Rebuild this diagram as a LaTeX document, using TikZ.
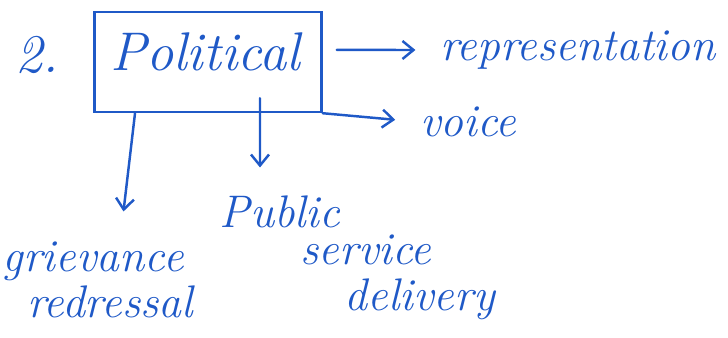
\documentclass[tikz,border=0pt]{standalone}
\usepackage{tikz}
\usetikzlibrary{arrows.meta}
\definecolor{InkBlue}{rgb}{0.12, 0.35, 0.78}

\begin{document}
\begin{tikzpicture}[
  x=0.02cm, y=-0.02cm,
  ink/.style  = {draw=InkBlue, line width=1.4pt},
  hw/.style   = {text=InkBlue, inner sep=0pt, font=\itshape\fontsize{26}{28}\selectfont},
  hwbig/.style = {text=InkBlue, inner sep=0pt, font=\itshape\fontsize{31}{34}\selectfont},
  cn/.style   = {ink, ->, line cap=round},
  >={Straight Barb[length=2.2mm, width=3.6mm]},
]
\useasboundingbox (0,0) rectangle (728,338);

\node[hwbig] (num) at (37,55) {2.};
\node[ink, minimum width=4.54cm, minimum height=2.0cm, inner sep=0pt] (box) at (208,62) {};
\node[hwbig] (pol) at (205,52) {Political};

\node[hw] (rep)  at (578,50)  {representation};
\node[hw] (voi)  at (468,122) {voice};
\node[hw] (pub)  at (280,212) {Public};
\node[hw] (ser)  at (366,250) {service};
\node[hw] (del)  at (420,299) {delivery};
\node[hw] (gri)  at (93,261)  {grievance};
\node[hw] (red)  at (110,302) {redressal};

\draw[cn, shorten <=8pt, shorten >=14pt] (box.6) -- (rep.west);
\draw[cn, shorten >=14pt] (box.south east) -- (voi.west);
\draw[cn, shorten >=16pt] ([xshift=1.04cm, yshift=0.3cm]box.south) -- ([xshift=-0.4cm]pub.north);
\draw[cn, shorten >=17pt] ([xshift=-1.46cm]box.south) -- ([xshift=0.54cm]gri.north);

\end{tikzpicture}
\end{document}
